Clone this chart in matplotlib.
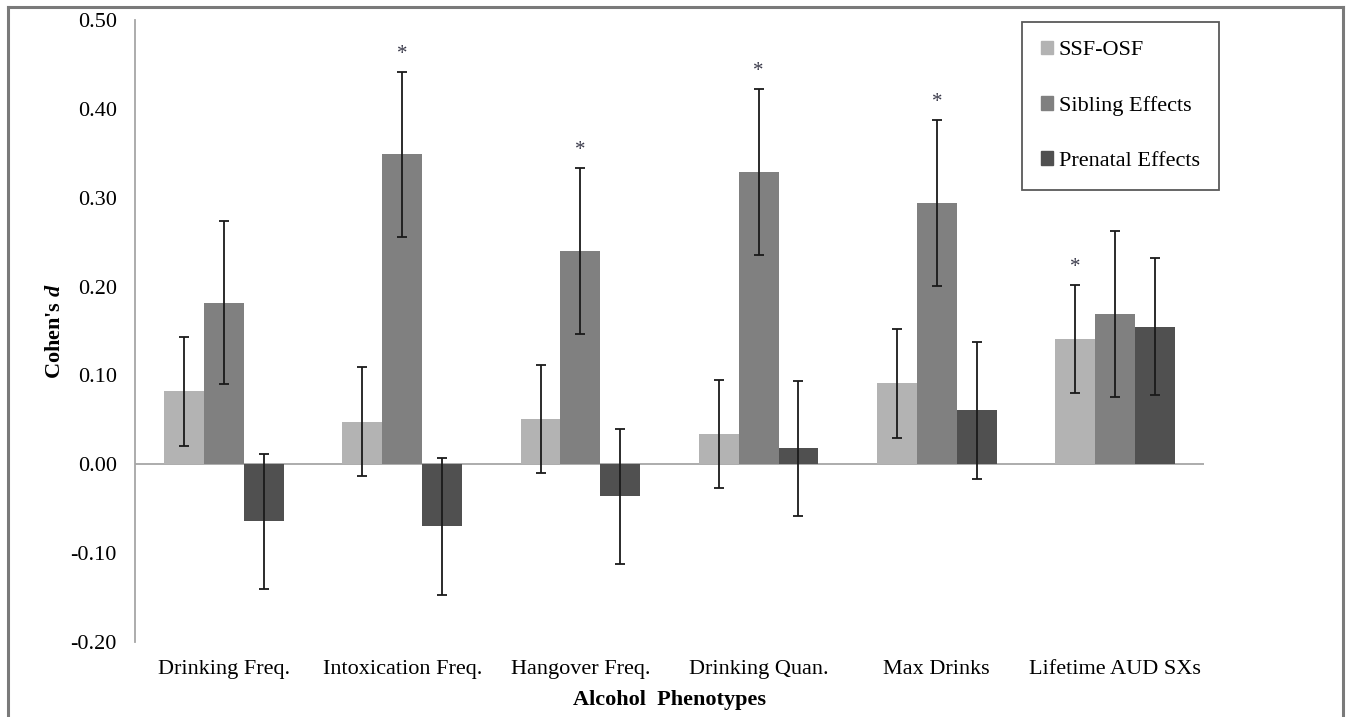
"""Cohen's d by alcohol phenotype: SSF-OSF, sibling and prenatal effects."""
import matplotlib

matplotlib.use("Agg")
import matplotlib.pyplot as plt  # noqa: E402
import numpy as np  # noqa: E402
from matplotlib.lines import Line2D  # noqa: E402
from matplotlib.patches import Patch  # noqa: E402

# ---- data ----
categories = ["Drinking Freq.", "Intoxication Freq.", "Hangover Freq.",
              "Drinking Quan.", "Max Drinks", "Lifetime AUD SXs"]
ssf_osf = [0.082, 0.048, 0.051, 0.034, 0.091, 0.141]
sibling = [0.182, 0.349, 0.240, 0.329, 0.294, 0.169]
prenatal = [-0.064, -0.070, -0.036, 0.018, 0.061, 0.155]
ssf_err = [0.061, 0.061, 0.061, 0.061, 0.061, 0.061]
sib_err = [0.092, 0.093, 0.093, 0.093, 0.093, 0.093]
pre_err = [0.076, 0.077, 0.076, 0.076, 0.077, 0.077]
# significant marks: (series index, category index)
stars = [(1, 1), (1, 2), (1, 3), (1, 4), (0, 5)]

series_names = ["SSF-OSF", "Sibling Effects", "Prenatal Effects"]
COLORS = ["#b3b3b3", "#808080", "#505050"]

plt.rcParams["font.family"] = ["Liberation Serif", "DejaVu Serif"]
plt.rcParams["mathtext.fontset"] = "custom"
plt.rcParams["mathtext.it"] = "Liberation Serif:italic:bold"
plt.rcParams["mathtext.rm"] = "Liberation Serif:bold"

W, H = 1348, 717
fig = plt.figure(figsize=(W / 100, H / 100), dpi=100)
ax = fig.add_axes([135 / W, 1 - 642 / H, (1204 - 135) / W, (642 - 20) / H])

x = np.arange(len(categories))
bw = 0.224
vals = [ssf_osf, sibling, prenatal]
errs = [ssf_err, sib_err, pre_err]
for i, (v, e) in enumerate(zip(vals, errs)):
    xi = x + (i - 1) * bw
    ax.bar(xi, v, width=bw, color=COLORS[i], edgecolor="none", zorder=2)
    ax.errorbar(xi, v, yerr=e, fmt="none", ecolor="#1a1a1a", elinewidth=1.3,
                capsize=3.5, capthick=1.3, zorder=3)

for s, c in stars:
    top = vals[s][c] + errs[s][c]
    ax.text(c + (s - 1) * bw, top + 0.009, "*", ha="center", va="bottom",
            fontsize=15, color="#3a3a4a", zorder=4)

ax.axhline(0, color="#a6a6a6", lw=1.3, zorder=1)
ax.set_xlim(-0.5, len(categories) - 0.5)
ax.set_ylim(-0.2, 0.5)
ticks = np.arange(-0.2, 0.51, 0.1)
ax.set_yticks(ticks)
ax.set_yticklabels([f"{t:.2f}" for t in ticks], fontsize=16)
ax.set_xticks(x)
ax.set_xticklabels(categories, fontsize=16)
ax.tick_params(axis="both", length=0)
ax.tick_params(axis="y", pad=13)
ax.tick_params(axis="x", pad=13)
for side in ["top", "right", "bottom"]:
    ax.spines[side].set_visible(False)
ax.spines["left"].set_color("#a6a6a6")
ax.spines["left"].set_linewidth(1.3)

ax.set_xlabel("Alcohol  Phenotypes", fontsize=16, fontweight="bold", labelpad=8)
ax.set_ylabel("Cohen's $d$", fontsize=16, fontweight="bold", labelpad=4)

handles = [Patch(color=c, label=n) for c, n in zip(COLORS, series_names)]
leg = fig.legend(handles=handles, loc="upper left",
                 bbox_to_anchor=(1022 / W, 1 - 22 / H), fontsize=16,
                 handlelength=0.55, handleheight=0.55, handletextpad=0.25,
                 labelspacing=1.6, borderpad=0.85, borderaxespad=0,
                 fancybox=False, frameon=True)
leg.get_frame().set_edgecolor("#303030")
leg.get_frame().set_linewidth(1.3)

# outer border (open at the bottom, cropped)
bc = "#7a7a7a"
fig.add_artist(Line2D([8 / W, 8 / W], [0, 1 - 7 / H], color=bc, lw=2.2))
fig.add_artist(Line2D([8 / W, 1343 / W], [1 - 7 / H, 1 - 7 / H], color=bc, lw=2.2))
fig.add_artist(Line2D([1343 / W, 1343 / W], [0, 1 - 7 / H], color=bc, lw=2.2))

fig.savefig("out.png", dpi=100, facecolor="white")
